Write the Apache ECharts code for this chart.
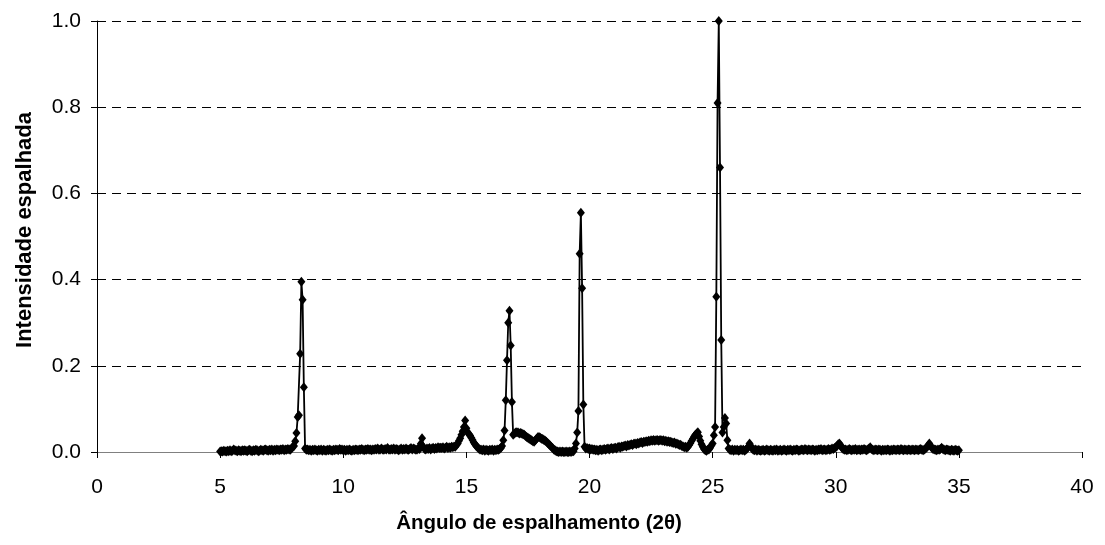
<!DOCTYPE html>
<html>
<head>
<meta charset="utf-8">
<script src="https://cdn.jsdelivr.net/npm/echarts@6/dist/echarts.min.js"></script>
<style>
    html, body { margin: 0; padding: 0; background: #fff; }
    #difratograma { width: 1105px; height: 545px; }
</style>
</head>
<body>
<div id="difratograma"></div>
<script>
// varredura de 5 a 35 graus, passo de 0.05
const anguloInicial = 5;
const passo = 0.05;

// intensidade normalizada, 20 pontos por grau
const int5a10 = [
    0.001,0.002,0.001,0.003,0.002,0.001,0.003,0.002,0.004,0.002, 0.003,0.006,0.004,0.003,0.002,0.004,0.003,0.002,0.004,0.003,
    0.004,0.003,0.002,0.004,0.005,0.003,0.002,0.004,0.003,0.005, 0.004,0.002,0.003,0.005,0.004,0.003,0.005,0.006,0.004,0.003,
    0.005,0.004,0.006,0.003,0.005,0.004,0.006,0.005,0.004,0.006, 0.005,0.007,0.004,0.006,0.005,0.007,0.006,0.005,0.008,0.012,
    0.014,0.025,0.044,0.081,0.085,0.228,0.395,0.353,0.150,0.008, 0.005,0.006,0.004,0.005,0.003,0.005,0.004,0.006,0.004,0.003,
    0.005,0.004,0.006,0.003,0.005,0.004,0.003,0.005,0.004,0.006, 0.004,0.003,0.005,0.004,0.006,0.005,0.004,0.007,0.005,0.006
];
const int10a15 = [
    0.004,0.005,0.003,0.005,0.004,0.006,0.004,0.003,0.005,0.004, 0.006,0.005,0.004,0.006,0.005,0.007,0.005,0.004,0.006,0.005,
    0.007,0.005,0.006,0.004,0.006,0.005,0.007,0.006,0.008,0.005, 0.006,0.008,0.006,0.005,0.007,0.006,0.009,0.006,0.005,0.007,
    0.006,0.008,0.005,0.007,0.006,0.004,0.006,0.008,0.005,0.007, 0.006,0.008,0.006,0.005,0.007,0.009,0.006,0.008,0.007,0.005,
    0.006,0.008,0.007,0.019,0.032,0.012,0.007,0.006,0.008,0.007, 0.009,0.006,0.008,0.010,0.007,0.009,0.008,0.011,0.009,0.010,
    0.009,0.011,0.008,0.010,0.012,0.009,0.011,0.010,0.012,0.011, 0.013,0.012,0.016,0.020,0.026,0.032,0.040,0.048,0.058,0.073
];
const int15a20 = [
    0.055,0.046,0.042,0.038,0.033,0.028,0.022,0.018,0.014,0.011, 0.008,0.006,0.005,0.004,0.006,0.003,0.005,0.004,0.003,0.005,
    0.004,0.006,0.003,0.005,0.004,0.006,0.005,0.007,0.009,0.014, 0.027,0.050,0.120,0.213,0.300,0.328,0.247,0.116,0.040,0.043,
    0.045,0.046,0.045,0.043,0.044,0.043,0.041,0.040,0.037,0.035, 0.033,0.031,0.029,0.027,0.025,0.024,0.027,0.031,0.034,0.035,
    0.033,0.031,0.030,0.028,0.026,0.024,0.021,0.018,0.015,0.012, 0.009,0.006,0.004,0.002,0.001,0.000,0.001,0.000,0.001,0.000,
    0.000,0.001,0.000,0.000,0.001,0.000,0.002,0.002,0.008,0.020, 0.045,0.095,0.460,0.555,0.380,0.110,0.012,0.008,0.009,0.007
];
const int20a25 = [
    0.008,0.006,0.007,0.005,0.006,0.004,0.005,0.003,0.005,0.006, 0.004,0.006,0.007,0.005,0.007,0.008,0.006,0.008,0.009,0.007,
    0.009,0.010,0.008,0.011,0.012,0.010,0.013,0.012,0.014,0.015, 0.013,0.016,0.015,0.017,0.018,0.016,0.019,0.020,0.018,0.021,
    0.020,0.022,0.023,0.021,0.024,0.023,0.025,0.024,0.026,0.025, 0.027,0.026,0.028,0.026,0.027,0.028,0.026,0.027,0.028,0.026,
    0.027,0.025,0.026,0.024,0.025,0.023,0.024,0.022,0.021,0.022, 0.019,0.020,0.018,0.016,0.017,0.014,0.013,0.011,0.012,0.010,
    0.012,0.016,0.021,0.026,0.031,0.036,0.040,0.043,0.046,0.036, 0.026,0.018,0.012,0.007,0.004,0.003,0.005,0.006,0.010,0.015
];
const int25a30 = [
    0.020,0.039,0.058,0.360,0.810,1.000,0.660,0.260,0.045,0.058, 0.079,0.066,0.027,0.008,0.005,0.004,0.006,0.003,0.005,0.004,
    0.005,0.003,0.004,0.006,0.004,0.005,0.003,0.005,0.008,0.012, 0.020,0.014,0.008,0.005,0.004,0.006,0.003,0.005,0.004,0.003,
    0.004,0.005,0.003,0.004,0.006,0.004,0.003,0.005,0.004,0.003, 0.005,0.004,0.006,0.003,0.004,0.005,0.003,0.004,0.006,0.004,
    0.003,0.005,0.004,0.006,0.004,0.003,0.005,0.004,0.006,0.005, 0.003,0.004,0.006,0.005,0.004,0.007,0.005,0.004,0.006,0.005,
    0.004,0.006,0.005,0.003,0.005,0.004,0.006,0.005,0.007,0.004, 0.005,0.006,0.004,0.005,0.007,0.005,0.006,0.008,0.007,0.009
];
const int30a35 = [
    0.011,0.014,0.018,0.020,0.015,0.010,0.007,0.005,0.006,0.004, 0.005,0.007,0.005,0.004,0.006,0.005,0.007,0.004,0.005,0.006,
    0.004,0.006,0.005,0.007,0.005,0.004,0.006,0.008,0.011,0.007, 0.005,0.004,0.006,0.005,0.004,0.006,0.005,0.003,0.005,0.004,
    0.005,0.004,0.006,0.005,0.003,0.005,0.004,0.006,0.005,0.004, 0.006,0.005,0.004,0.007,0.005,0.004,0.006,0.005,0.004,0.006,
    0.005,0.004,0.006,0.005,0.004,0.006,0.005,0.004,0.006,0.007, 0.005,0.004,0.006,0.008,0.011,0.015,0.020,0.014,0.010,0.007,
    0.006,0.005,0.004,0.006,0.005,0.007,0.010,0.007,0.005,0.004, 0.006,0.005,0.004,0.003,0.005,0.004,0.003,0.005,0.004,0.003,
    0.004
];

const eixoX = { min: 0, max: 40, intervalo: 5 };
const eixoY = { min: 0, max: 1, intervalo: 0.2 };

const tituloX = 'Ângulo de espalhamento (2θ)';
const tituloY = 'Intensidade espalhada';

let difratogramaChart;

const build = function () {
    const intensidades = [].concat(int5a10, int10a15, int15a20, int20a25, int25a30, int30a35);
    const pontos = intensidades.map(function (v, i) {
        return [Math.round((anguloInicial + i * passo) * 100) / 100, v];
    });

    difratogramaChart = echarts.init(document.getElementById('difratograma'), null, { renderer: 'canvas' });

    const fonte = 'Arial, "Liberation Sans", sans-serif';

    const option = {
        animation: false,
        backgroundColor: '#fff',
        grid: { left: 97, right: 23, top: 21, bottom: 93, containLabel: false },
        xAxis: {
            type: 'value',
            min: eixoX.min,
            max: eixoX.max,
            interval: eixoX.intervalo,
            axisLine: { show: true, onZero: false, lineStyle: { color: '#808080', width: 1 } },
            axisTick: { show: true, length: 6, lineStyle: { color: '#000' } },
            axisLabel: { color: '#000', fontFamily: fonte, fontSize: 21, margin: 25 },
            splitLine: { show: false }
        },
        yAxis: {
            type: 'value',
            min: eixoY.min,
            max: eixoY.max,
            interval: eixoY.intervalo,
            axisLine: { show: true, lineStyle: { color: '#000', width: 1 } },
            axisTick: { show: true, length: 6, lineStyle: { color: '#000' } },
            axisLabel: {
                color: '#000', fontFamily: fonte, fontSize: 21, margin: 16,
                formatter: function (v) { return v.toFixed(1); }
            },
            splitLine: { show: true, lineStyle: { color: '#000', width: 1, type: [9, 6] } }
        },
        graphic: [
            {
                type: 'text', x: 539, y: 523,
                style: {
                    text: tituloX, fill: '#000', fontFamily: fonte, fontWeight: 'bold', fontSize: 20.5,
                    textAlign: 'center', textVerticalAlign: 'middle'
                }
            },
            {
                type: 'text', x: 25, y: 230, rotation: Math.PI / 2,
                style: {
                    text: tituloY, fill: '#000', fontFamily: fonte, fontWeight: 'bold', fontSize: 22,
                    textAlign: 'center', textVerticalAlign: 'middle'
                }
            }
        ],
        series: [
            {
                type: 'line',
                data: pontos,
                symbol: 'diamond',
                symbolSize: [8, 10],
                showAllSymbol: true,
                lineStyle: { color: '#000', width: 1.8 },
                itemStyle: { color: '#000' },
                emphasis: { disabled: true }
            }
        ]
    };

    difratogramaChart.setOption(option);
};

build();
</script>
</body>
</html>
